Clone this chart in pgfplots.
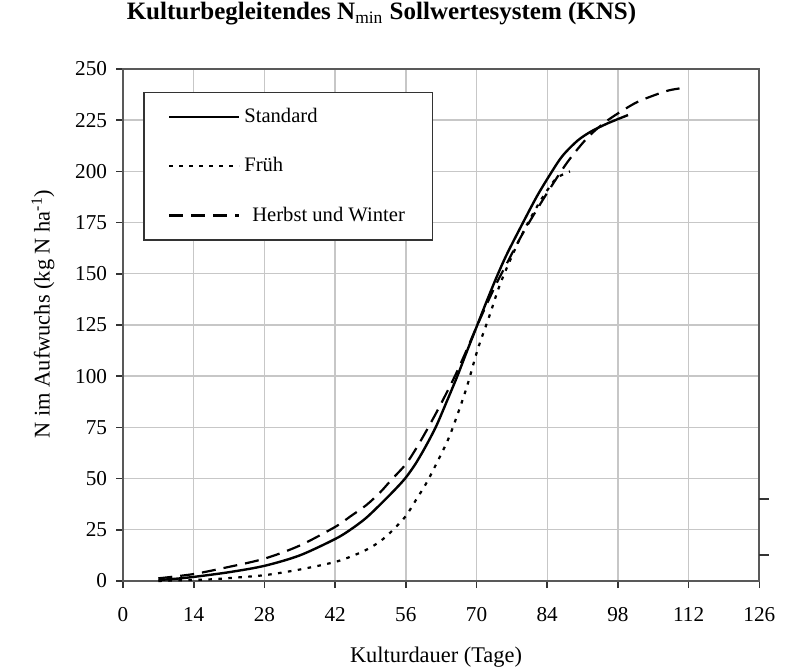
\documentclass[border=0pt]{standalone}
\usepackage{pgfplots}
\pgfplotsset{compat=1.18}
\usepackage{fontspec}
\setmainfont{Liberation Serif}

\pgfplotstableread{
x y
7 0.5
10 1
14 2
21 4.3
28 7.4
35 12.5
42 20.5
45 25
48 30.5
51 37.5
54 45
56 50.5
58 57.5
60 66
62 75.5
64 87
66.2 100
68 111.5
70 124
72 136.5
74 148.5
76 159.5
79 174
82 188
84.7 199
87 207.5
90 215
92.7 219.5
96 223.5
100 227.5
}\standard

\pgfplotstableread{
x y
7 0
12 0.4
17.3 0.8
22 1.6
28.2 2.9
35 5.6
42 9.3
46 12.8
49 16.3
51.5 20.5
53.6 25.3
56 31.7
58 39.5
60 47.5
62 57
64.7 71
67.9 93.3
70.2 112.8
72.5 129
74.1 141
75.5 150
78 164
80 174
82.5 185
84.5 192.5
86 197
88.5 200
}\frueh

\pgfplotstableread{
x y
7 1.3
14 3.4
21 6.9
28 10.9
35 17.3
42 26.4
45 31.5
48.3 37.3
51 43.5
53 49
56 57
58 64.5
60 73
62 82
64 91.5
66 101.5
68 112.5
70 124
72 135
74 145.5
76 155
78 164.5
80.4 175
84 189.5
88 204.5
92 216.5
96 225
101.3 233.2
105 237
108 239.5
110.2 240.5
}\herbst

\begin{document}
\begin{tikzpicture}
\begin{axis}[
  at={(61.5bp,43bp)}, anchor=south west,
  scale only axis, width=318.15bp, height=256bp,
  xmin=0, xmax=126, ymin=0, ymax=250,
  xtick={0,14,...,126}, ytick={0,25,...,250},
  grid=major,
  major grid style={color=black!22, line width=0.7bp},
  axis line style={color=black!65, line width=1bp},
  tick align=outside, tick pos=left,
  major tick length=3.5bp,
  tick style={color=black!80, line width=0.8bp},
  ticklabel style={font=\fontsize{10.6bp}{12bp}\selectfont},
  xticklabel style={yshift=-6bp},
  yticklabel style={xshift=-1bp},
  /pgf/number format/assume math mode=true,
  clip=false,
  legend style={at={(rel axis cs:0.032,0.9557)}, anchor=north west,
    draw=black!80, line width=0.6bp, fill=white,
    font=\fontsize{10.3bp}{12bp}\selectfont,
    row sep=12bp, inner xsep=12bp, inner ysep=6bp,
    /tikz/every even column/.append style={column sep=0pt}},
  legend cell align=left,
  legend image code/.code={\draw[#1] (0bp,0bp) -- (35bp,0bp);},
]
\addplot[black, line width=1.2bp, smooth] table {\standard};
\addlegendentry{Standard}
\addplot[black, line width=1.1bp, dash pattern=on 1.8bp off 3.2bp, smooth] table {\frueh};
\addlegendentry{Früh}
\addplot[black, line width=1.1bp, dash pattern=on 7bp off 4bp, smooth] table {\herbst};
\addlegendentry{\hspace{4bp}Herbst und Winter}
\draw[black!80, line width=0.8bp] (axis cs:126,39.9) -- ++(5bp,0);
\draw[black!80, line width=0.8bp] (axis cs:126,12.7) -- ++(5bp,0);
\end{axis}
\node[anchor=base, font=\bfseries\fontsize{12.5bp}{14bp}\selectfont] at (190.75bp,323.75bp)
  {Kulturbegleitendes N\textsubscript{\mdseries min} Sollwertesystem (KNS)};
\node[rotate=90, anchor=center, font=\fontsize{11.2bp}{13bp}\selectfont] at (21.5bp,176.5bp)
  {N im Aufwuchs (kg N ha\textsuperscript{-1})};
\node[anchor=base, font=\fontsize{11.2bp}{13bp}\selectfont] at (218bp,2.5bp)
  {Kulturdauer (Tage)};
\pgfresetboundingbox
\useasboundingbox (0,0) rectangle (396bp,333.5bp);
\end{tikzpicture}
\end{document}
